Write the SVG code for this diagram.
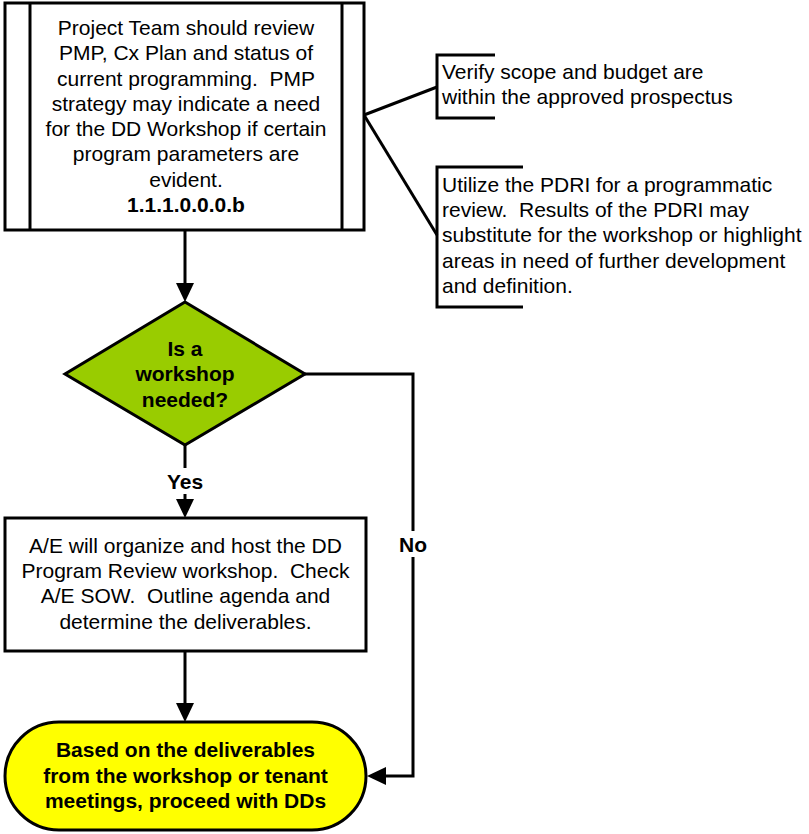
<svg xmlns="http://www.w3.org/2000/svg" width="809" height="834" viewBox="0 0 809 834">
<style>
.t{font-family:"Liberation Sans",Arial,sans-serif;font-size:21px;fill:#000;text-anchor:middle;white-space:pre}
.l{text-anchor:start}
.b{font-weight:bold}
.s{fill:none;stroke:#000;stroke-width:3}
.w{fill:#fff}
.g{fill:#99CC00}
.y{fill:#FFFF00}
.c{fill:none;stroke:#000;stroke-width:3}
</style>
<defs>
<marker id="ah" markerUnits="userSpaceOnUse" markerWidth="20" markerHeight="20" refX="14" refY="9" orient="auto">
<path d="M0,0 L19,9 L0,18 z" fill="#000"/>
</marker>
</defs>
<rect width="809" height="834" fill="#fff"/>
<g id="connectors">
<line class="c" x1="185" y1="230" x2="185" y2="297" marker-end="url(#ah)"/>
<line class="c" x1="185" y1="445" x2="185" y2="513" marker-end="url(#ah)"/>
<line class="c" x1="185" y1="651" x2="185" y2="717" marker-end="url(#ah)"/>
<path class="c" d="M305,374 H413 V776 H372" marker-end="url(#ah)"/>
<line class="c" x1="364" y1="115" x2="437" y2="87"/>
<line class="c" x1="364" y1="115" x2="437" y2="235"/>
<rect x="165" y="468" width="40" height="26" fill="#fff"/>
<text class="t b" x="185" y="489">Yes</text>
<rect x="396" y="531" width="34" height="26" fill="#fff"/>
<text class="t b" x="413" y="552">No</text>
</g>
<g id="review">
<rect class="s w" x="5" y="3" width="359" height="227"/>
<line class="s" x1="30" y1="3" x2="30" y2="230"/>
<line class="s" x1="342" y1="3" x2="342" y2="230"/>
<text class="t" x="186" y="35">Project Team should review</text>
<text class="t" x="186" y="60">PMP, Cx Plan and status of</text>
<text class="t" x="186" y="86">current programming.  PMP</text>
<text class="t" x="186" y="111">strategy may indicate a need</text>
<text class="t" x="186" y="136">for the DD Workshop if certain</text>
<text class="t" x="186" y="161">program parameters are</text>
<text class="t" x="186" y="187">evident.</text>
<text class="t b" x="186" y="212">1.1.1.0.0.0.b</text>
</g>
<g id="note1">
<path class="s" d="M495,55 H437 V118 H495"/>
<text class="t l" x="442" y="79">Verify scope and budget are</text>
<text class="t l" x="442" y="104">within the approved prospectus</text>
</g>
<g id="note2">
<path class="s" d="M523,167 H437 V307 H523"/>
<text class="t l" x="442" y="192">Utilize the PDRI for a programmatic</text>
<text class="t l" x="442" y="217">review.  Results of the PDRI may</text>
<text class="t l" x="442" y="242">substitute for the workshop or highlight</text>
<text class="t l" x="442" y="268">areas in need of further development</text>
<text class="t l" x="442" y="293">and definition.</text>
</g>
<g id="decision">
<polygon class="s g" points="185,302 305,374 185,445 65,374"/>
<text class="t b" x="185" y="356">Is a</text>
<text class="t b" x="185" y="381">workshop</text>
<text class="t b" x="185" y="407">needed?</text>
</g>
<g id="workshop">
<rect class="s w" x="5" y="518" width="361" height="133"/>
<text class="t" x="185.5" y="553">A/E will organize and host the DD</text>
<text class="t" x="185.5" y="578">Program Review workshop.  Check</text>
<text class="t" x="185.5" y="603">A/E SOW.  Outline agenda and</text>
<text class="t" x="185.5" y="629">determine the deliverables.</text>
</g>
<g id="proceed">
<rect class="s y" x="5" y="722" width="361" height="108" rx="54" ry="54"/>
<text class="t b" x="185.5" y="757">Based on the deliverables</text>
<text class="t b" x="185.5" y="783">from the workshop or tenant</text>
<text class="t b" x="185.5" y="808">meetings, proceed with DDs</text>
</g>
</svg>
